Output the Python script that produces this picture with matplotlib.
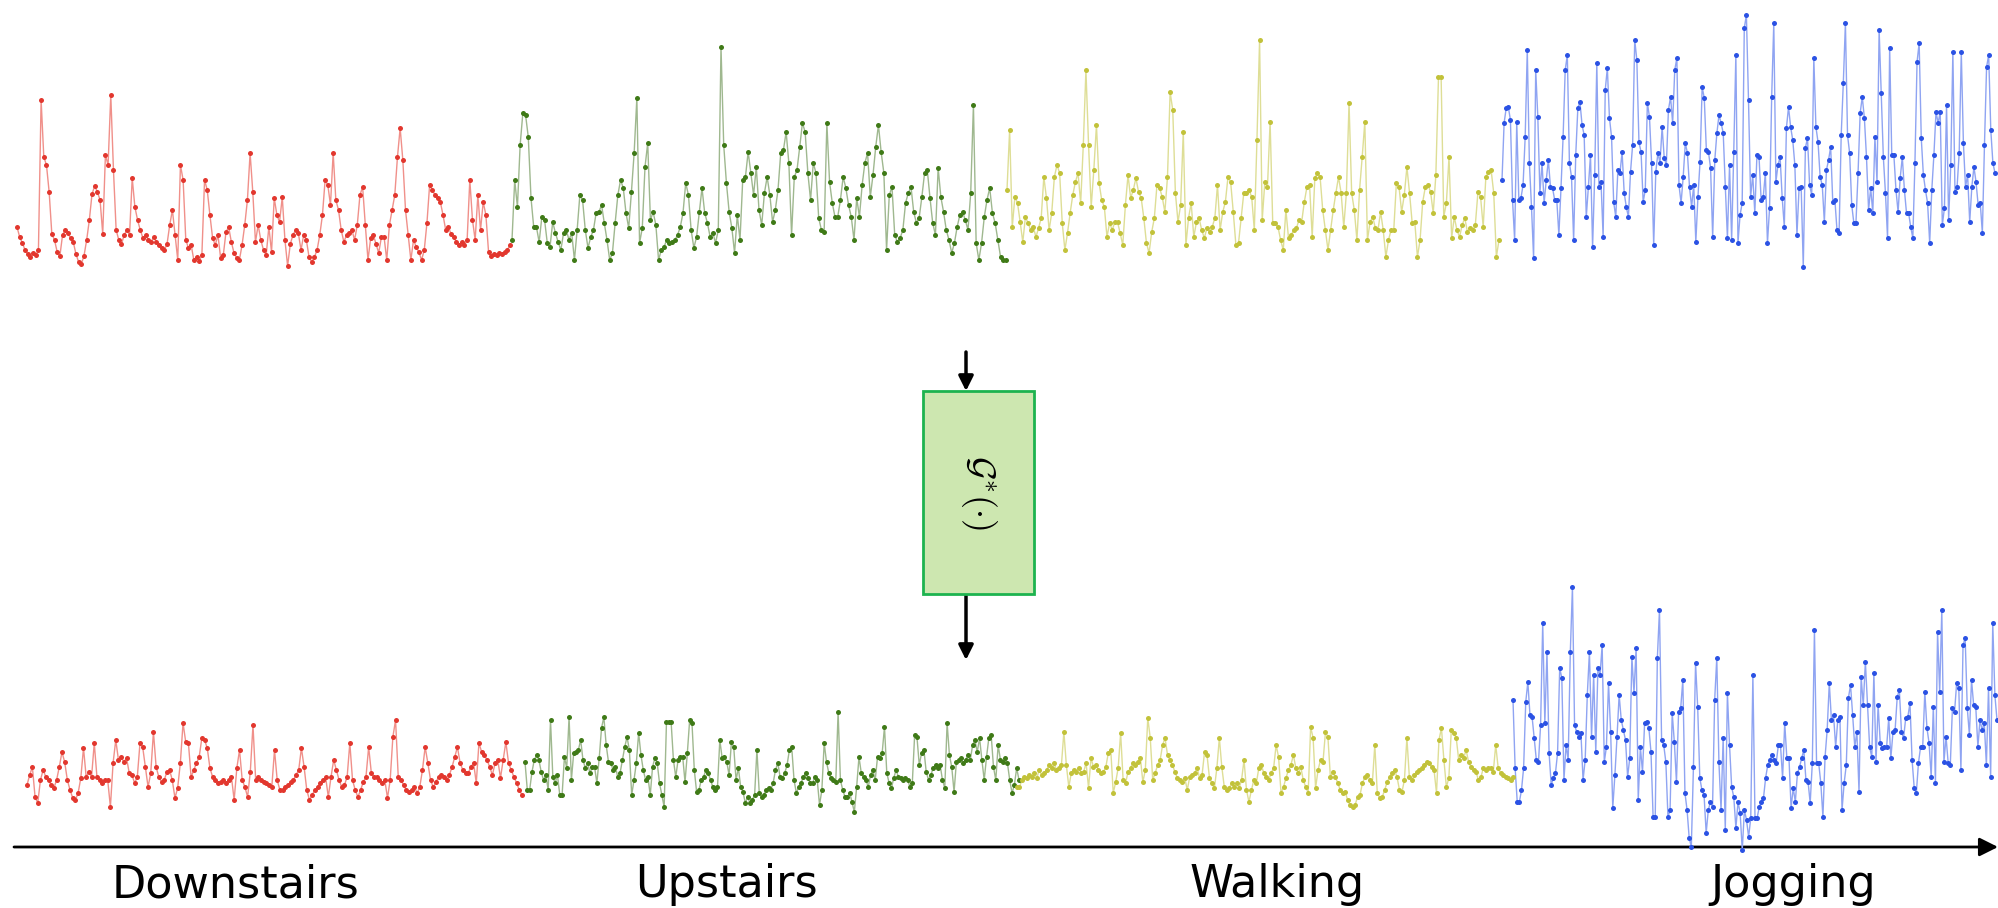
import matplotlib
matplotlib.use("Agg")
import matplotlib.pyplot as plt
from matplotlib.patches import Rectangle
import numpy as np

plt.rcParams['mathtext.fontset'] = 'cm'

activities = ["Downstairs", "Upstairs", "Walking", "Jogging"]

# ---- raw signal (top row) ----
top_downstairs = [4.3, 3.3, 2.7, 2.0, 1.6, 1.3, 1.7, 1.5, 2.0,
 17.0, 11.3, 10.5, 7.8,
 3.6, 3.0, 1.8, 1.4, 3.5, 4.0, 3.7, 3.2, 2.8, 1.6, 0.8, 0.6, 1.4,
 3.0, 5.0, 7.6, 8.4, 7.8, 7.0, 3.6,
 11.5, 10.5, 17.5, 10.0,
 4.0, 3.0, 2.6, 3.5, 4.0, 3.5,
 9.2, 6.3, 5.0, 4.0, 3.2,
 3.5, 3.0, 2.8, 3.3, 2.8, 2.5, 2.2, 2.0, 2.6,
 4.5, 6.0, 3.5, 1.0,
 10.5, 9.0, 3.0, 2.2, 2.5, 1.0, 1.3, 0.9, 1.5,
 9.0, 8.0, 5.5, 3.2, 2.5, 3.5, 1.2, 1.5, 3.8, 4.3, 2.8, 1.7, 1.2, 1.0,
 2.5, 4.5, 7.0, 11.7, 7.8, 2.8, 4.5, 3.0,
 2.0, 1.5, 4.3, 1.8, 7.2, 5.5, 4.8, 7.3, 3.0,
 0.4, 2.6, 3.5, 4.0, 3.7, 2.0, 3.5, 3.0, 1.3, 0.8, 1.3, 2.0,
 3.5, 5.5, 9.0, 8.5, 6.5, 11.7, 7.0, 6.0, 4.0,
 2.8, 3.5, 3.7, 4.0, 3.0, 4.5, 7.5, 8.3, 4.5,
 1.0, 3.2, 3.5, 2.6, 1.7, 3.3, 3.3, 1.0, 4.5, 6.0, 7.5,
 11.3, 14.2, 11.0, 6.0, 3.5, 1.0, 3.0, 2.3, 1.8, 1.0, 2.0,
 4.7, 8.5, 8.0, 7.5, 7.2, 6.8, 5.5, 4.0, 4.3, 3.6, 3.3, 2.8, 2.5, 2.8, 2.5, 3.0,
 9.0, 5.0, 3.0, 7.5, 4.0, 6.8, 5.5,
 1.8, 1.4, 1.6, 1.5, 1.7, 1.6, 1.8, 2.0, 2.5]

top_upstairs = [3.0, 9.0, 6.3, 12.5, 15.7, 15.5, 13.3, 7.2, 4.3, 4.3, 2.8, 5.3, 5.0, 2.7, 2.3,
 4.8, 3.7, 2.8, 2.0, 3.7, 4.0, 3.0, 3.7, 1.0, 4.0, 7.5, 7.0, 4.0, 2.2, 3.3, 4.0, 5.7, 5.8,
 6.5, 4.7, 3.0, 1.0, 1.7, 4.7, 7.5, 9.0, 8.2, 5.7, 4.2, 7.8, 11.7, 17.2, 2.7, 4.2, 10.3,
 12.7, 5.0, 5.8, 4.5, 1.0, 2.0, 2.3, 3.0, 2.7, 2.8, 3.0, 3.5, 4.3, 5.7, 8.7, 7.5, 4.0, 2.2,
 3.3, 5.8, 8.2, 5.7, 4.7, 3.3, 3.7, 2.7, 4.0, 22.3, 12.5, 8.7, 5.8, 4.2, 1.7, 5.5, 3.0, 9.0,
 9.3, 11.8, 9.7, 7.5, 10.3, 6.0, 4.5, 7.7, 9.3, 7.5, 4.8, 6.0, 8.0, 11.7, 12.0, 13.8, 10.7,
 3.5, 9.3, 10.0, 12.3, 14.7, 13.8, 9.7, 7.0, 10.7, 9.7, 5.2, 4.0, 3.8, 14.7, 8.8, 6.7, 5.3,
 5.3, 7.0, 9.3, 8.2, 6.5, 5.3, 3.0, 7.2, 5.3, 8.5, 10.7, 11.7, 7.3, 9.5, 12.3, 14.5, 11.8,
 9.7, 2.0, 7.5, 8.3, 3.5, 2.8, 3.2, 4.0, 6.7, 7.7, 8.3, 5.8, 4.7, 5.2, 7.3, 9.7, 10.0, 7.2,
 4.7, 3.5, 10.2, 7.3, 5.8, 4.0, 3.0, 1.7, 2.7, 4.3, 5.5, 5.8, 5.0, 4.0, 7.7, 16.5, 2.7, 1.0,
 2.7, 5.3, 7.0, 8.2, 5.7, 4.7, 3.0, 1.3, 1.0, 1.0]

top_walking = [8.0, 14.0, 4.3, 7.3, 6.7, 4.8, 2.8, 5.3, 4.7, 4.0, 4.3, 3.3, 4.2, 5.2, 9.3,
 7.2, 4.0, 5.7, 9.3, 10.5, 9.7, 4.7, 2.0, 3.7, 5.7, 7.5, 8.8, 9.7, 6.7, 12.5, 20.0, 12.5,
 6.3, 10.0, 14.5, 8.7, 7.0, 6.3, 3.3, 4.7, 4.0, 4.8, 4.8, 3.7, 2.5, 6.5, 9.5, 7.2, 8.0, 9.2,
 7.8, 7.2, 5.2, 2.7, 1.7, 3.8, 5.2, 8.5, 8.2, 7.3, 5.8, 9.3, 17.8, 16.0, 7.7, 4.8, 6.5, 13.8,
 2.5, 5.2, 6.7, 3.3, 4.8, 5.2, 4.0, 3.2, 4.2, 3.8, 4.3, 5.2, 8.5, 4.0, 5.8, 6.8, 9.3, 8.8,
 5.8, 2.5, 2.7, 5.2, 7.7, 7.7, 8.0, 7.3, 4.0, 13.0, 23.0, 5.0, 8.8, 8.3, 14.8, 4.7, 4.7,
 4.3, 3.0, 2.0, 6.0, 3.2, 3.5, 4.0, 4.2, 5.0, 4.8, 6.8, 8.3, 8.5, 3.3, 9.2, 9.7, 9.3, 6.0,
 4.0, 2.0, 4.0, 6.0, 7.7, 9.3, 7.7, 4.3, 7.7, 16.7, 7.7, 6.0, 3.0, 8.0, 11.3, 14.8, 3.0,
 4.8, 5.3, 4.2, 4.0, 5.8, 4.0, 1.3, 3.0, 4.0, 4.0, 8.7, 8.3, 5.8, 7.5, 10.3, 7.7, 4.7, 4.8,
 1.3, 3.0, 6.8, 8.3, 8.5, 7.8, 5.7, 9.5, 19.3, 19.3, 5.3, 6.7, 11.3, 3.2, 5.3, 4.0, 3.3,
 4.5, 5.2, 3.8, 4.2, 4.0, 4.5, 7.8, 7.3, 4.3, 9.3, 9.8, 10.0, 7.7, 1.3, 3.0]

top_jogging = [9.0, 14.7, 16.2, 16.3, 15.0, 7.0, 3.0, 14.8, 7.0, 7.2, 8.5, 13.3, 22.0, 10.7,
 6.3, 1.2, 20.0, 15.3, 7.7, 10.7, 6.7, 9.0, 11.0, 8.3, 8.2, 7.0, 7.0, 3.5, 8.2, 13.3, 20.0,
 21.5, 10.7, 9.3, 3.0, 11.5, 16.2, 16.8, 14.5, 13.5, 5.3, 8.3, 11.5, 2.3, 9.5, 20.7, 8.3,
 8.8, 3.3, 18.0, 20.2, 15.2, 13.3, 6.8, 5.3, 10.0, 9.7, 11.8, 7.7, 6.3, 5.3, 9.8, 12.5,
 23.0, 21.0, 12.8, 11.8, 6.8, 8.0, 16.7, 15.3, 10.7, 2.5, 9.8, 11.7, 10.7, 14.3, 11.2, 10.5,
 16.0, 17.3, 14.7, 20.0, 21.2, 8.5, 6.7, 9.3, 12.7, 11.7, 8.3, 6.3, 8.5, 2.8, 7.3, 10.8,
 18.3, 17.2, 12.0, 11.8, 10.2, 3.3, 11.0, 13.7, 15.5, 14.7, 13.7, 8.3, 3.2, 10.5, 3.0, 11.8,
 21.5, 2.7, 5.5, 6.7, 24.2, 25.5, 17.0, 7.3, 9.5, 5.7, 11.5, 11.3, 7.0, 7.3, 9.7, 2.7, 6.2,
 17.3, 24.7, 8.8, 10.5, 11.3, 7.2, 4.3, 14.2, 16.3, 14.3, 13.0, 10.5, 3.5, 8.2, 8.3, 0.3,
 12.2, 13.2, 8.5, 7.5, 21.2, 14.3, 12.8, 9.3, 8.5, 4.8, 10.0, 11.0, 12.3, 6.8, 7.0, 4.0,
 3.7, 13.5, 18.7, 24.7, 13.5, 11.7, 6.5, 4.7, 4.7, 9.7, 15.7, 17.3, 15.2, 11.3, 6.0, 8.2,
 5.7, 13.3, 8.8, 24.0, 17.7, 11.3, 7.7, 3.2, 22.2, 11.5, 11.5, 8.0, 5.8, 9.2, 11.3, 8.0,
 5.7, 5.7, 4.3, 3.2, 10.7, 20.8, 22.7, 13.2, 9.5, 8.0, 6.7, 2.7, 8.0, 11.5, 15.8, 14.7,
 15.8, 4.5, 6.2, 16.5, 5.0, 10.5, 21.8, 7.8, 8.3, 11.7, 21.8, 12.7, 8.3, 9.5, 4.8, 8.3,
 10.3, 8.8, 6.5, 6.7, 3.7, 12.5, 20.3, 21.5, 14.0, 10.7, 9.7]

# ---- transformed signal (bottom row) ----
bot_downstairs = [6.5, 7.5, 8.3, 5.3, 4.7, 7.0, 8.0, 7.3, 7.0, 6.5, 6.2, 7.0, 8.3, 9.8, 8.8,
 7.0, 6.0, 5.2, 5.0, 5.7, 7.2, 10.2, 7.3, 7.8, 7.3, 10.7, 7.3, 7.0, 6.7, 7.0, 7.0, 4.3, 8.7,
 11.0, 9.0, 9.3, 8.8, 9.2, 7.7, 7.5, 6.7, 7.3, 10.7, 10.3, 8.3, 6.3, 7.7, 11.8, 8.3, 7.3,
 6.8, 7.0, 7.8, 8.0, 7.0, 5.2, 6.2, 8.7, 12.7, 10.8, 10.7, 7.3, 8.0, 8.7, 9.3, 11.2, 11.0,
 10.2, 8.2, 7.3, 7.0, 6.7, 6.8, 7.0, 6.7, 7.0, 7.3, 5.0, 8.2, 10.0, 7.0, 6.3, 5.3, 7.8,
 12.5, 7.0, 7.3, 7.0, 6.8, 6.7, 6.5, 6.3, 10.0, 7.0, 6.0, 6.0, 6.3, 6.5, 6.8, 7.0, 7.5, 8.0,
 10.2, 8.3, 6.0, 5.0, 5.5, 6.0, 6.3, 6.7, 7.0, 7.3, 5.3, 7.3, 9.0, 8.0, 7.0, 6.3, 6.5, 7.3,
 10.7, 7.0, 6.0, 5.3, 6.0, 6.8, 7.3, 10.3, 7.7, 7.3, 7.3, 7.0, 6.7, 7.0, 5.2, 7.0, 11.3,
 13.0, 7.3, 7.0, 6.5, 6.0, 5.8, 6.0, 6.3, 5.7, 6.3, 8.0, 10.3, 8.7, 7.0, 6.3, 6.8, 7.3, 7.5,
 7.3, 7.0, 7.5, 8.3, 9.3, 10.3, 8.7, 8.0, 7.7, 7.7, 8.3, 8.7, 6.7, 10.7, 9.8, 9.5, 9.0, 8.3,
 7.5, 8.7, 9.0, 7.2, 9.0, 10.8, 8.7, 8.0, 7.3, 6.7, 6.0, 5.5]

bot_upstairs = [8.8, 6.0, 6.0, 7.8, 9.0, 9.5, 9.0, 7.8, 7.0, 7.5, 6.0, 13.0, 7.3, 6.7, 7.5,
 5.5, 5.5, 9.3, 8.2, 13.3, 7.0, 9.7, 9.8, 10.0, 11.0, 9.0, 8.2, 8.7, 7.7, 8.3, 8.3, 6.7, 9.2,
 12.2, 13.3, 10.5, 8.8, 8.7, 8.0, 8.3, 7.3, 7.7, 9.0, 10.3, 11.3, 10.0, 5.5, 7.0, 8.7, 11.7,
 9.5, 8.0, 7.0, 7.3, 5.5, 8.3, 9.2, 8.7, 6.7, 5.5, 4.3, 12.8, 12.8, 12.8, 9.0, 7.3, 9.0, 9.3,
 9.3, 6.8, 9.7, 13.0, 12.7, 8.0, 5.8, 6.0, 7.0, 7.3, 8.0, 7.7, 7.0, 6.3, 6.0, 6.3, 11.0, 9.2,
 9.3, 8.8, 7.5, 10.8, 10.3, 7.0, 8.2, 6.3, 5.8, 4.7, 5.3, 4.7, 5.0, 5.5, 10.0, 5.7, 5.3, 5.5,
 6.0, 6.2, 6.0, 6.7, 8.0, 8.7, 7.3, 7.2, 7.7, 8.5, 10.0, 10.3, 7.0, 5.7, 6.3, 6.7, 7.3, 7.7,
 7.2, 6.7, 6.7, 7.3, 7.0, 4.5, 6.0, 10.7, 8.8, 7.7, 7.2, 7.0, 6.8, 13.8, 7.0, 6.0, 5.3, 5.3,
 5.7, 4.8, 3.8, 6.3, 9.3, 7.7, 7.3, 7.0, 6.3, 7.5, 8.0, 7.0, 9.3, 9.2, 9.7, 12.3, 7.7, 6.7,
 6.2, 7.2, 8.0, 7.3, 7.2, 7.0, 7.2, 7.0, 6.3, 6.7, 11.5, 11.3, 8.5, 9.7, 10.0, 7.8, 7.0, 7.5,
 8.2, 8.5, 8.2, 8.5, 7.0, 6.2, 12.7, 9.5, 8.3, 5.8, 8.8, 9.0, 9.2, 8.7, 9.0, 9.5, 9.0, 10.5,
 11.0, 9.8, 11.2, 9.0, 7.0, 9.3, 11.2, 11.5, 8.3, 7.0, 10.5, 9.0, 8.8, 9.2, 8.7, 7.0, 5.7,
 6.5, 8.2, 7.0]

bot_walking = [6.3, 6.3, 7.0, 7.3, 7.2, 7.5, 7.3, 7.7, 7.2, 8.0, 7.5, 7.7, 8.0, 8.5, 8.2, 8.7,
 8.0, 8.2, 8.5, 11.8, 8.5, 6.3, 7.7, 8.0, 7.8, 8.2, 7.7, 7.8, 8.7, 6.2, 9.2, 8.3, 8.5, 8.0,
 7.7, 7.8, 8.3, 9.7, 10.0, 5.7, 6.8, 8.2, 11.7, 7.0, 6.7, 7.8, 8.2, 8.7, 8.5, 8.8, 9.2, 6.8,
 8.0, 13.2, 11.2, 7.0, 7.7, 8.5, 9.0, 10.5, 11.2, 9.5, 9.0, 8.5, 7.8, 7.2, 7.0, 6.8, 7.2,
 6.0, 7.3, 7.5, 7.7, 8.2, 7.2, 7.5, 9.8, 9.5, 7.2, 6.7, 6.2, 8.2, 11.2, 8.3, 6.3, 6.0, 6.2,
 6.7, 6.3, 6.7, 6.2, 7.0, 9.0, 6.0, 4.8, 6.0, 7.0, 6.7, 8.2, 8.5, 7.7, 7.3, 7.0, 7.7, 8.2,
 10.5, 9.3, 5.7, 6.3, 7.2, 8.0, 8.5, 9.5, 8.2, 7.7, 8.3, 7.0, 6.3, 5.7, 12.3, 11.2, 6.2, 8.0,
 9.0, 8.8, 11.8, 11.3, 7.3, 7.8, 7.3, 6.7, 6.0, 5.7, 5.8, 5.0, 4.5, 4.3, 4.5, 5.3, 5.5, 6.7,
 7.3, 7.5, 7.0, 6.7, 10.5, 5.7, 5.2, 5.3, 6.0, 6.8, 7.3, 7.7, 8.0, 7.3, 6.0, 5.8, 7.0, 11.2,
 7.3, 7.0, 7.5, 7.8, 8.0, 8.2, 8.5, 8.8, 8.7, 8.3, 8.0, 5.7, 11.0, 12.2, 9.0, 6.3, 7.2, 12.0,
 11.7, 11.2, 9.0, 9.5, 9.2, 10.0, 8.8, 8.3, 8.0, 7.8, 7.0, 7.3, 8.2, 8.0, 8.2, 8.2, 7.8,
 10.5, 8.2, 7.7, 7.5, 7.3, 7.2, 7.0, 7.3]

bot_jogging = [15.0, 8.2, 4.8, 4.8, 6.0, 8.2, 14.8, 16.8, 13.5, 13.3, 11.2, 9.0, 8.8, 12.5,
 22.7, 12.7, 19.8, 9.7, 6.5, 7.2, 7.7, 9.7, 18.2, 17.2, 7.0, 10.5, 9.0, 19.8, 26.3, 12.5,
 11.8, 11.3, 11.7, 7.0, 9.0, 15.5, 19.8, 11.3, 17.5, 9.8, 18.2, 17.5, 20.5, 8.8, 10.3, 16.7,
 11.8, 4.2, 7.5, 11.3, 15.5, 13.0, 12.0, 11.0, 7.3, 9.2, 19.3, 15.7, 20.2, 5.0, 10.3, 7.8,
 12.7, 12.8, 12.2, 9.8, 3.3, 3.3, 19.2, 24.0, 11.0, 10.5, 8.8, 3.3, 4.0, 13.7, 10.8, 6.8,
 13.8, 14.2, 17.0, 5.7, 4.0, 1.2, 0.3, 8.3, 18.7, 14.3, 7.2, 6.0, 5.5, 1.7, 4.0, 4.8, 4.3,
 15.0, 19.2, 8.8, 4.0, 11.2, 2.0, 15.7, 10.5, 6.3, 5.3, 2.2, 4.8, 3.7, 0.0, 4.0, 3.0, 1.3,
 3.2, 17.5, 3.2, 3.2, 4.3, 4.8, 5.2, 7.2, 8.5, 9.0, 9.5, 9.0, 8.7, 10.5, 10.5, 7.2, 12.7,
 9.2, 9.2, 4.2, 6.2, 4.8, 7.7, 8.3, 9.2, 10.0, 7.0, 6.8, 4.7, 8.7, 22.0, 8.7, 8.7, 6.7, 3.3,
 9.3, 12.0, 16.7, 13.0, 13.5, 10.3, 13.0, 13.3, 4.0, 6.7, 8.5, 15.2, 16.5, 13.5, 10.3, 11.8,
 5.8, 17.3, 14.5, 18.8, 14.5, 10.3, 9.3, 17.7, 8.8, 14.5, 10.7, 10.2, 10.3, 10.3, 13.2, 9.2,
 11.8, 12.0, 15.3, 16.0, 11.8, 11.2, 13.2, 13.3, 14.7, 9.0, 6.2, 5.7, 8.7, 10.3, 10.3, 15.8,
 12.2, 10.7, 7.3, 14.3, 6.7, 21.8, 15.8, 24.0, 8.8, 11.3, 8.7, 8.5, 14.2, 13.8, 16.7, 16.2,
 8.0, 20.5, 21.2, 14.2, 11.5, 17.0, 14.5, 14.3, 10.3, 13.0, 12.0, 12.7, 8.5, 16.2, 7.3,
 22.7, 15.5, 13.0]

top_series = [top_downstairs, top_upstairs, top_walking, top_jogging]
bot_series = [bot_downstairs, bot_upstairs, bot_walking, bot_jogging]

# ---- layout / style ----
W, H = 1998, 908
TOP_SPANS = [(17, 510), (512, 1006), (1007, 1499), (1502, 1995)]
BOT_SPANS = [(27, 522), (525, 1019), (1017, 1513), (1513, 1997)]
MARKER_COLORS = ['#e2372e', '#3f7a17', '#c2c23a', '#2b52e4']
LINE_COLORS = ['#f0908a', '#9fb88f', '#dede96', '#8fa4f2']
LABEL_X = [236, 726, 1277, 1793]

fig = plt.figure(figsize=(W / 100, H / 100), dpi=100)

# overlay axes in pixel space for the diagram parts
ov = fig.add_axes([0, 0, 1, 1])
ov.set_xlim(0, W)
ov.set_ylim(H, 0)
ov.axis('off')

ax_top = fig.add_axes([0, (H - 270) / H, 1, 270 / H])
ax_bot = fig.add_axes([0, (H - 850) / H, 1, 270 / H])
for ax in (ax_top, ax_bot):
    ax.set_xlim(0, W)
    ax.set_ylim(0, 27)
    ax.axis('off')
    ax.patch.set_alpha(0)

for ax, series, spans in ((ax_top, top_series, TOP_SPANS), (ax_bot, bot_series, BOT_SPANS)):
    for vals, (x0, x1), mc, lc in zip(series, spans, MARKER_COLORS, LINE_COLORS):
        x = np.linspace(x0, x1, len(vals))
        ax.plot(x, vals, '-', color=lc, lw=1.0, zorder=2, clip_on=False)
        ax.plot(x, vals, 'o', color=mc, ms=3.6, mew=0, zorder=3, clip_on=False)

# time axis arrow
ov.annotate('', xy=(1998, 847), xytext=(14, 847),
            arrowprops=dict(arrowstyle='-|>', color='black', lw=2, mutation_scale=28,
                            shrinkA=0, shrinkB=0))
for name, lx in zip(activities, LABEL_X):
    ov.text(lx, 897, name, ha='center', va='baseline', fontsize=32,
            family='DejaVu Sans', color='black')

# mapping box with arrows
ov.add_patch(Rectangle((923, 391), 111, 203, facecolor='#cde7b0', edgecolor='#1db34f', lw=2, zorder=5))
ov.text(979, 492, r'$\mathcal{G}^{*}(\cdot)$', rotation=-90, ha='center', va='center',
        fontsize=26, zorder=6)
ov.annotate('', xy=(966, 391), xytext=(966, 352),
            arrowprops=dict(arrowstyle='-|>', color='black', lw=2.5, mutation_scale=22,
                            shrinkA=0, shrinkB=0))
ov.annotate('', xy=(966, 660), xytext=(966, 594),
            arrowprops=dict(arrowstyle='-|>', color='black', lw=2.5, mutation_scale=22,
                            shrinkA=0, shrinkB=0))

fig.savefig('out.png', dpi=100)
